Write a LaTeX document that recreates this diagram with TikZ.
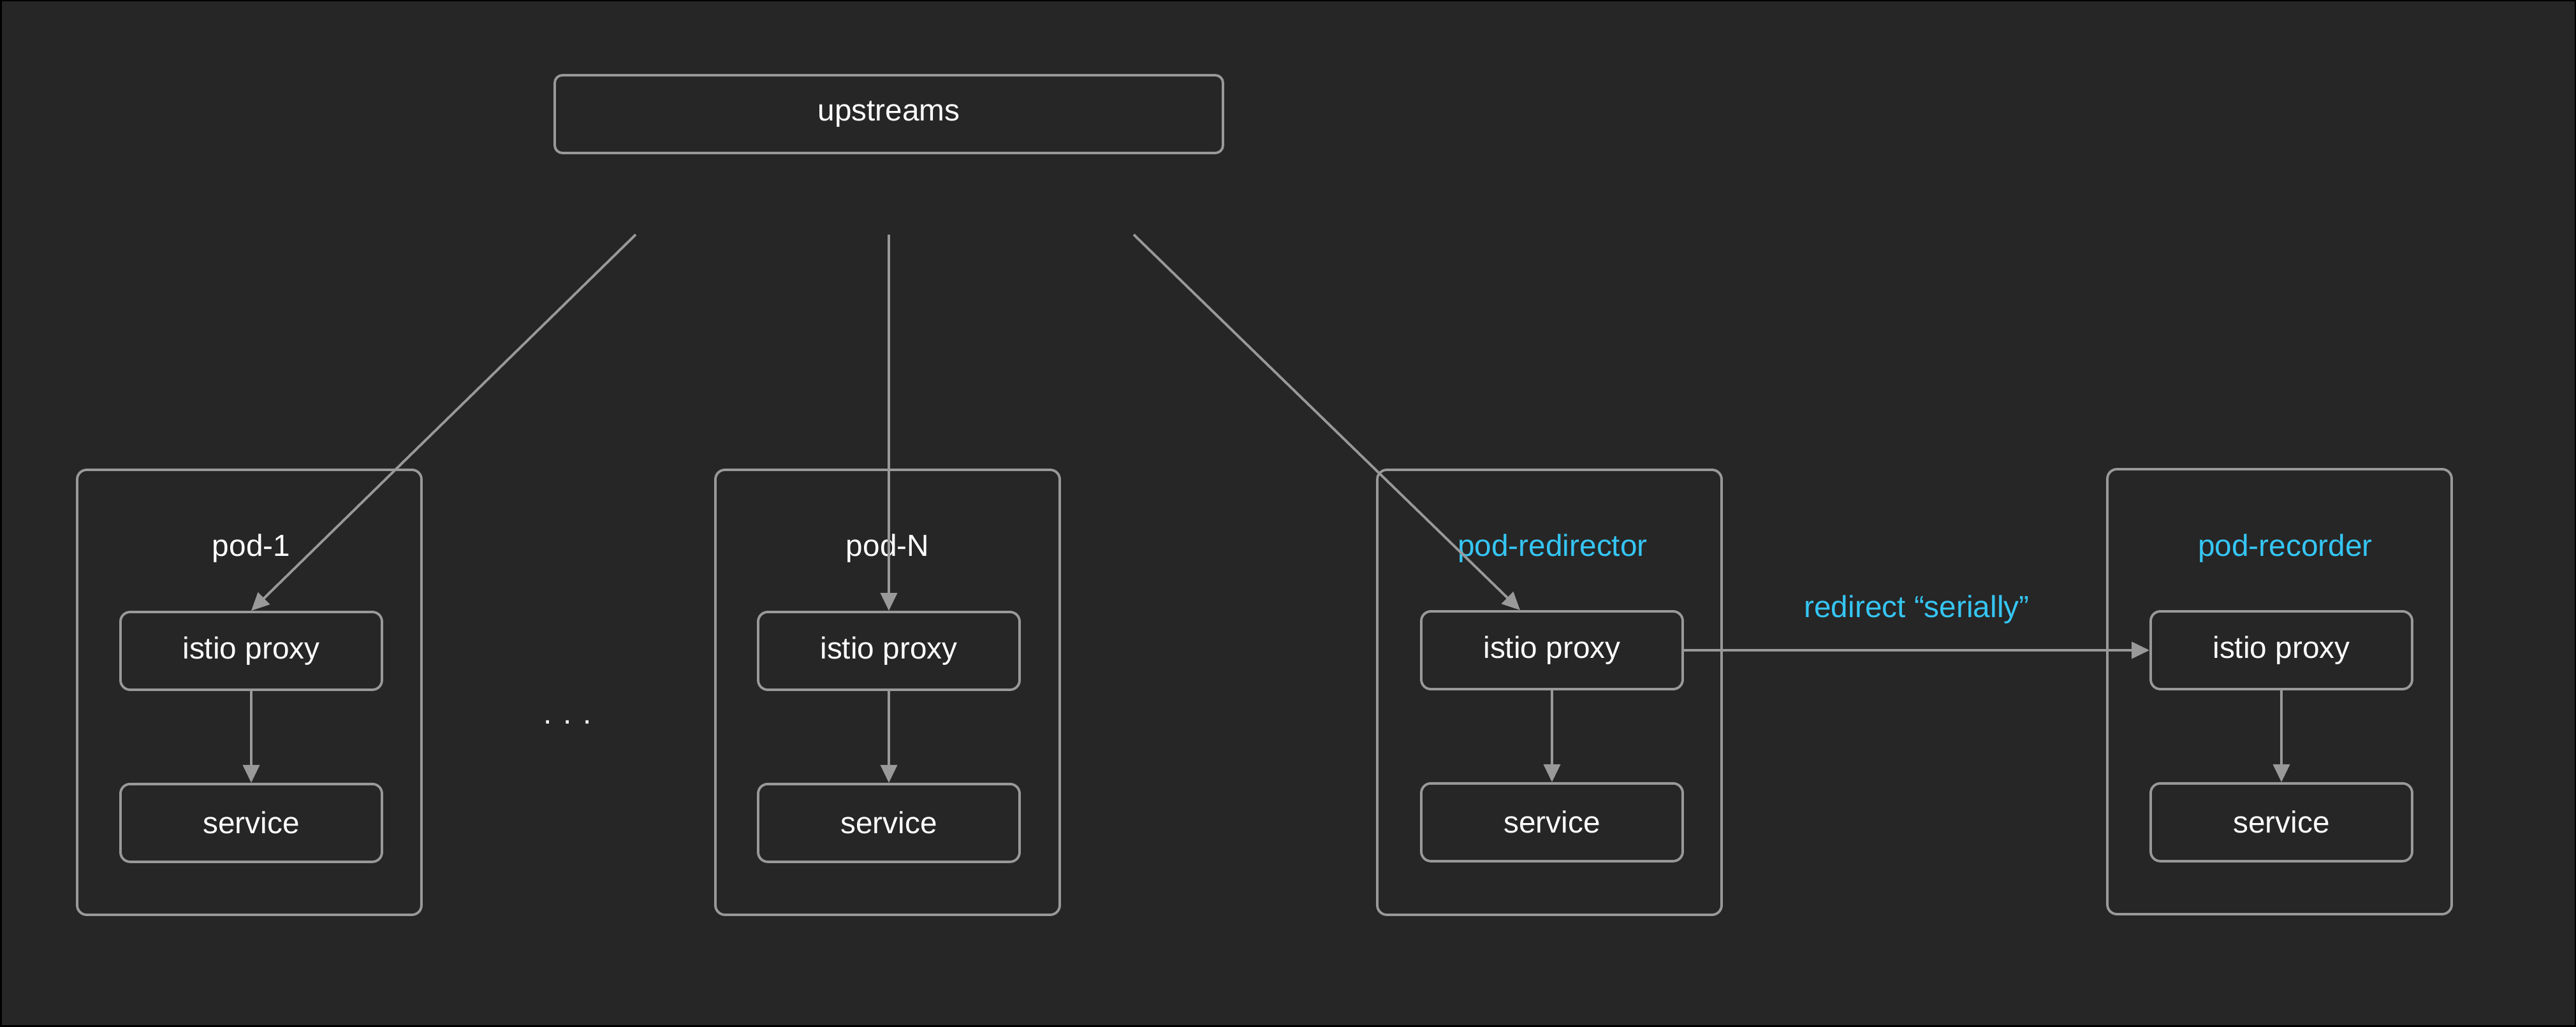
\documentclass[tikz,border=0pt]{standalone}
\usepackage{fontspec}
\setmainfont{Liberation Sans}
\usepackage{tikz}
\usetikzlibrary{arrows.meta, positioning}

\definecolor{bgdark}{HTML}{262626}
\definecolor{linegray}{HTML}{999999}
\definecolor{labelcyan}{HTML}{35C6F4}

\begin{document}
\begin{tikzpicture}[
	every node/.style={font=\fontsize{13.6}{16}\selectfont, text=white},
	box/.style={rectangle, draw=linegray, line width=1.1pt, rounded corners=0.15cm},
	pod/.style={box, minimum width=5.4cm, minimum height=6.98cm},
	proxy/.style={box, minimum width=4.1cm, minimum height=1.22cm},
	podlabel/.style={text=white},
	cyanlabel/.style={text=labelcyan},
	arrow/.style={draw=linegray, line width=1.1pt, -{Triangle[length=0.28cm, width=0.26cm]}}
	]
	
	% Background
	\useasboundingbox (0,0) rectangle (40.4,16.1);
	\draw[black, line width=0.05cm, fill=bgdark] (0,0) rectangle (40.4,16.1);
	
	% Upstreams
	\node[box, minimum width=10.48cm, minimum height=1.22cm, rounded corners=0.12cm] (upstreams) at (13.94,14.31) {upstreams};
	\coordinate (up1) at (9.97,12.42);
	\coordinate (up2) at (13.94,12.42);
	\coordinate (up3) at (17.78,12.42);
	
	% Pods
	\node[pod] (pod1) at (3.91,5.24) {};
	\node[pod] (podN) at (13.92,5.24) {};
	\node[pod] (podredir) at (24.30,5.24) {};
	\node[pod] (podrec) at (35.75,5.25) {};
	
	% Pod labels
	\node[podlabel] (label1) at (3.94,7.50) {pod-1};
	\node[podlabel] (labelN) at (13.92,7.50) {pod-N};
	\node[cyanlabel] (labelredir) at (24.35,7.50) {pod-redirector};
	\node[cyanlabel] (labelrec) at (35.84,7.50) {pod-recorder};
	
	% Proxies and services
	\node[proxy] (proxy1) at (3.94,5.89) {istio proxy};
	\node[proxy, below=1.44cm of proxy1] (service1) {service};
	\node[proxy] (proxyN) at (13.94,5.89) {istio proxy};
	\node[proxy, below=1.44cm of proxyN] (serviceN) {service};
	\node[proxy] (proxyredir) at (24.34,5.90) {istio proxy};
	\node[proxy, below=1.44cm of proxyredir] (serviceredir) {service};
	\node[proxy] (proxyrec) at (35.78,5.90) {istio proxy};
	\node[proxy, below=1.44cm of proxyrec] (servicerec) {service};
	
	% Dots between pods
	\node[anchor=base] (dots) at (8.90,4.74) {. . .};
	
	% Arrows
	\draw[arrow] (up1) -- (proxy1.north);
	\draw[arrow] (up2) -- (proxyN.north);
	\draw[arrow] (up3) -- ([xshift=-0.5cm]proxyredir.north);
	\draw[arrow] (proxy1) -- (service1);
	\draw[arrow] (proxyN) -- (serviceN);
	\draw[arrow] (proxyredir) -- (serviceredir);
	\draw[arrow] (proxyrec) -- (servicerec);
	\draw[arrow] (proxyredir.east) -- node[cyanlabel, above=0.28cm] (redirect) {redirect “serially”} (proxyrec.west);
\end{tikzpicture}
\end{document}
